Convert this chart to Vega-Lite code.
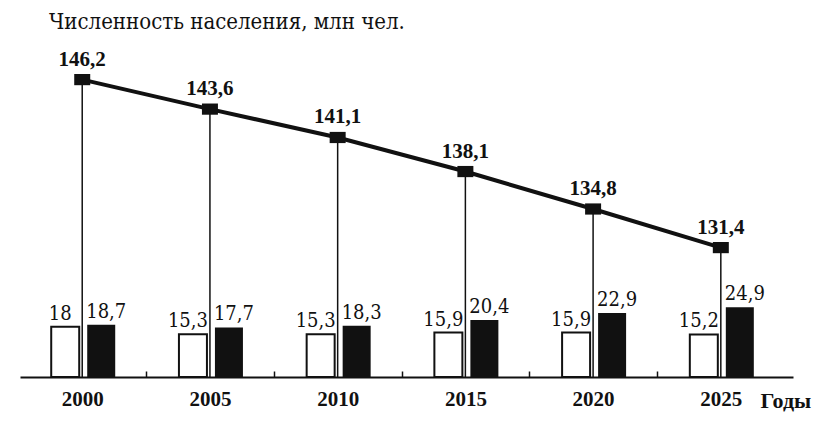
{
  "$schema": "https://vega.github.io/schema/vega-lite/v6.json",
  "width": 773,
  "height": 347,
  "autosize": "none",
  "padding": {"left": 20, "top": 30, "right": 40, "bottom": 45},
  "background": "white",
  "config": {
    "view": {"stroke": null},
    "locale": {"number": {"decimal": ",", "thousands": "\u00a0", "grouping": [3], "currency": ["", ""]}}
  },
  "title": {
    "text": "Численность населения, млн чел.",
    "anchor": "start",
    "frame": "group",
    "dx": 29,
    "dy": 23,
    "offset": 2,
    "baseline": "alphabetic",
    "font": "DejaVu Serif Condensed, DejaVu Serif",
    "fontSize": 22,
    "fontWeight": "normal",
    "color": "#111"
  },
  "data": {
    "values": [
      {"year": 2000, "pop": 146.2, "v1": 18.0, "v2": 18.7},
      {"year": 2005, "pop": 143.6, "v1": 15.3, "v2": 17.7},
      {"year": 2010, "pop": 141.1, "v1": 15.3, "v2": 18.3},
      {"year": 2015, "pop": 138.1, "v1": 15.9, "v2": 20.4},
      {"year": 2020, "pop": 134.8, "v1": 15.9, "v2": 22.9},
      {"year": 2025, "pop": 131.4, "v1": 15.2, "v2": 24.9}
    ]
  },
  "encoding": {
    "x": {
      "field": "year",
      "type": "quantitative",
      "scale": {"domain": [1997.76, 2027.63], "nice": false, "zero": false},
      "axis": {
        "values": [2000, 2002.5, 2005, 2007.5, 2010, 2012.5, 2015, 2017.5, 2020, 2022.5, 2025],
        "labelExpr": "datum.value % 5 == 0 ? format(datum.value, 'd') : ''",
        "tickSize": -6,
        "tickColor": "#111",
        "tickWidth": 1.5,
        "tickOpacity": {"condition": {"test": "datum.value % 5 == 0", "value": 0}, "value": 1},
        "domainColor": "#111",
        "domainWidth": 2,
        "grid": false,
        "labelFont": "Liberation Serif",
        "labelFontSize": 21,
        "labelFontWeight": "bold",
        "labelColor": "#111",
        "labelPadding": 17,
        "labelBaseline": "top",
        "labelFlush": false,
        "labelOverlap": false,
        "title": "Годы",
        "titleFont": "Liberation Serif",
        "titleFontSize": 22,
        "titleFontWeight": "bold",
        "titleColor": "#111",
        "titleAnchor": "end",
        "titleAlign": "left",
        "titleX": 740,
        "titleY": 13,
        "titleBaseline": "top"
      }
    }
  },
  "layer": [
    {
      "mark": {"type": "bar", "width": 28, "xOffset": -17, "fill": "white", "stroke": "#111", "strokeWidth": 2},
      "encoding": {"y": {"field": "v1", "type": "quantitative", "scale": {"domain": [0, 124], "nice": false}, "axis": null}}
    },
    {
      "mark": {"type": "bar", "width": 28, "xOffset": 19, "fill": "#111"},
      "encoding": {"y": {"field": "v2", "type": "quantitative", "scale": {"domain": [0, 124], "nice": false}, "axis": null}}
    },
    {
      "mark": {"type": "text", "dx": -22, "dy": -7, "baseline": "alphabetic", "font": "DejaVu Serif Condensed, DejaVu Serif", "fontSize": 20, "color": "#111"},
      "encoding": {
        "y": {"field": "v1", "type": "quantitative", "scale": {"domain": [0, 124], "nice": false}, "axis": null},
        "text": {"field": "v1", "type": "quantitative", "format": ".4~g"}
      }
    },
    {
      "mark": {"type": "text", "dx": 24, "dy": -7, "baseline": "alphabetic", "font": "DejaVu Serif Condensed, DejaVu Serif", "fontSize": 20, "color": "#111"},
      "encoding": {
        "y": {"field": "v2", "type": "quantitative", "scale": {"domain": [0, 124], "nice": false}, "axis": null},
        "text": {"field": "v2", "type": "quantitative", "format": ".4~g"}
      }
    },
    {
      "mark": {"type": "rule", "color": "#111", "strokeWidth": 1.5},
      "encoding": {
        "y": {"field": "pop", "type": "quantitative", "scale": {"domain": [120, 150.57], "nice": false, "zero": false}, "axis": null},
        "y2": {"datum": 120}
      }
    },
    {
      "mark": {"type": "line", "color": "#111", "strokeWidth": 4},
      "encoding": {
        "y": {"field": "pop", "type": "quantitative", "scale": {"domain": [120, 150.57], "nice": false, "zero": false}, "axis": null}
      }
    },
    {
      "mark": {"type": "point", "filled": true, "opacity": 1, "color": "#111", "size": 256, "shape": "M-1,-0.7L1,-0.7L1,0.7L-1,0.7Z"},
      "encoding": {
        "y": {"field": "pop", "type": "quantitative", "scale": {"domain": [120, 150.57], "nice": false, "zero": false}, "axis": null}
      }
    },
    {
      "mark": {"type": "text", "dy": -14, "baseline": "alphabetic", "font": "Liberation Serif", "fontSize": 21, "fontWeight": "bold", "color": "#111"},
      "encoding": {
        "y": {"field": "pop", "type": "quantitative", "scale": {"domain": [120, 150.57], "nice": false, "zero": false}, "axis": null},
        "text": {"field": "pop", "type": "quantitative", "format": ".4~g"}
      }
    }
  ],
  "resolve": {"scale": {"y": "independent"}}
}
